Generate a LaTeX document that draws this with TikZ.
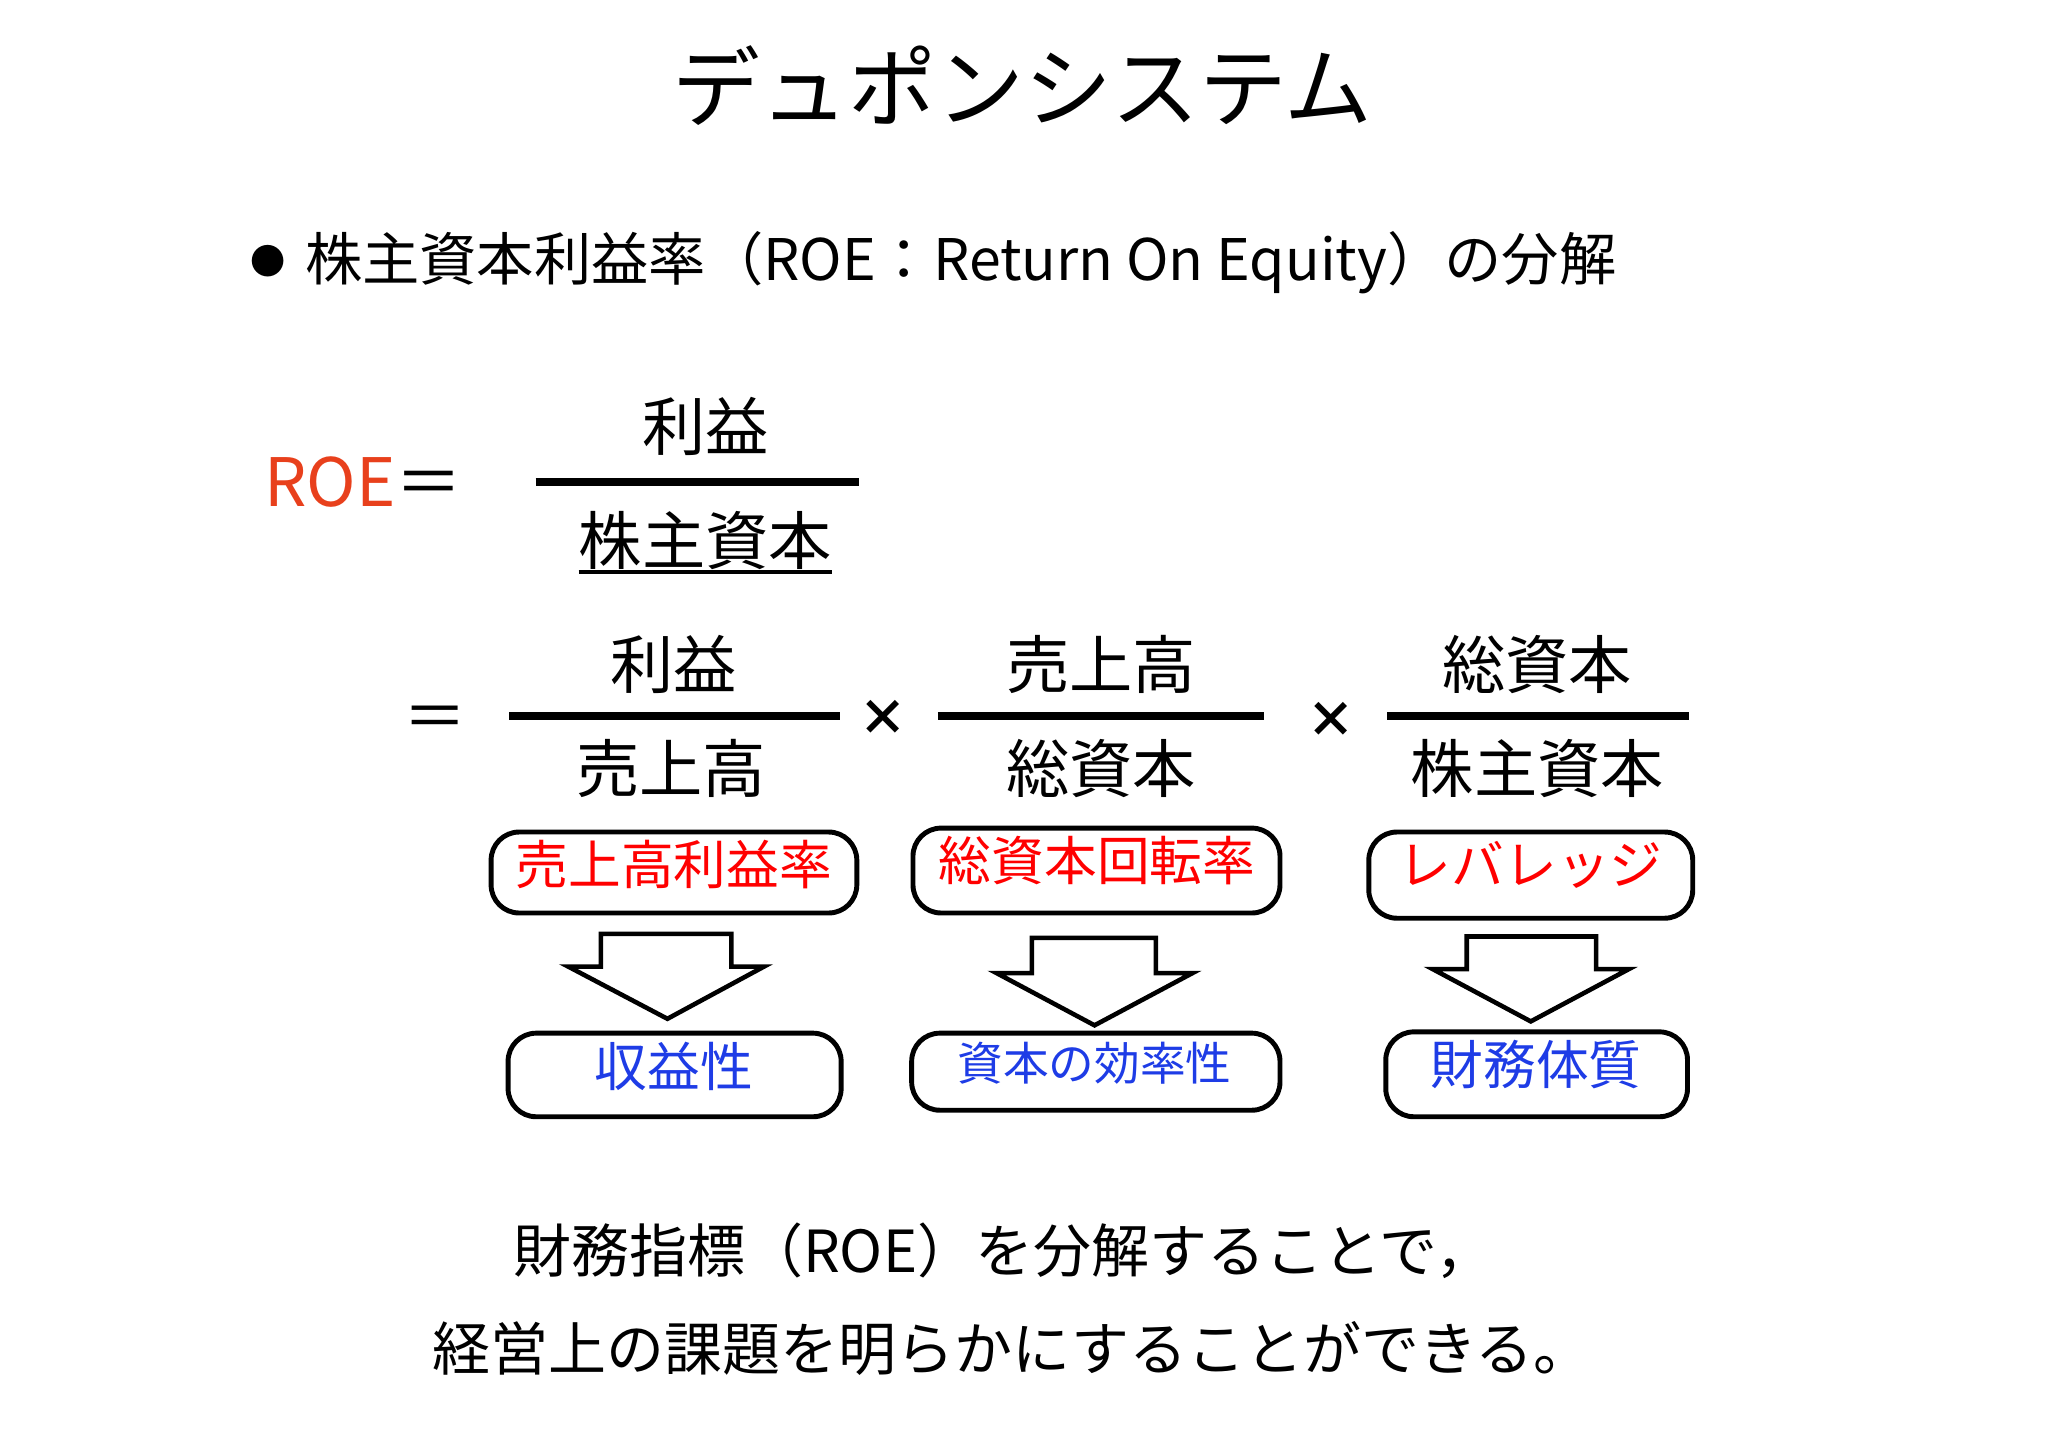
\documentclass[tikz,border=0pt]{standalone}
\usepackage{fontspec}
\setmainfont{Noto Sans CJK JP}
\begin{document}
\begin{tikzpicture}[x=0.01306cm,y=-0.01306cm,
  red box/.style={draw,line width=1.4pt,rounded corners=8pt},
  hollow arrow/.style={draw,line width=1.3pt,fill=white},
  lbl/.style={inner sep=0pt,anchor=base},
  frac/.style={line width=2.2pt}]
\useasboundingbox (0,0) rectangle (1568,1107);
\node[lbl] (title) at (783,92) {\fontsize{25}{28}\selectfont デュポンシステム};
\node[inner sep=0pt] (bul) at (205,200) {\fontsize{10}{12}\selectfont ●};
\node[lbl,anchor=base west] (sub) at (233,215) {\fontsize{16.3}{20}\selectfont 株主資本利益率（ROE：Return On Equity）の分解};
\node[lbl] (roe) at (278,388) {\fontsize{19}{22}\selectfont\textcolor[HTML]{E8401C}{ROE}＝};
% fraction 1
\node[lbl] (n1) at (540,345) {\fontsize{18}{20}\selectfont 利益};
\draw[frac] (410,369) -- (658,369);
\node[lbl] (d1) at (540,432) {\fontsize{18}{20}\selectfont 株主資本};
\draw[line width=1.2pt] (443,438) -- (637,438);
% row 2
\node[lbl] (eq2) at (333,566) {\fontsize{18}{20}\selectfont ＝};
\draw[frac] (390,548) -- (643,548);
\draw[frac] (718,548) -- (968,548);
\draw[frac] (1062,548) -- (1293,548);
\node[lbl] (a1) at (516,527) {\fontsize{18}{20}\selectfont 利益};
\node[lbl] (a2) at (843,527) {\fontsize{18}{20}\selectfont 売上高};
\node[lbl] (a3) at (1177,527) {\fontsize{18}{20}\selectfont 総資本};
\node[lbl] (b1) at (514,607) {\fontsize{18}{20}\selectfont 売上高};
\node[lbl] (b2) at (843,607) {\fontsize{18}{20}\selectfont 総資本};
\node[lbl] (b3) at (1177,607) {\fontsize{18}{20}\selectfont 株主資本};
\node[inner sep=0pt] (x1) at (676,550) {\fontsize{14}{16}\selectfont\bfseries ×};
\node[inner sep=0pt] (x2) at (1019,551) {\fontsize{14}{16}\selectfont\bfseries ×};
% red boxes
\draw[red box] (376,637) rectangle (656,699);
\draw[red box] (699,634) rectangle (980,699);
\draw[red box] (1048,637) rectangle (1296,703);
\node[lbl,text=red] (r1) at (516,677) {\fontsize{15}{17}\selectfont 売上高利益率};
\node[lbl,text=red] (r2) at (840,674) {\fontsize{15}{17}\selectfont 総資本回転率};
\node[lbl,text=red] (r3) at (1172,677) {\fontsize{15}{17}\selectfont レバレッジ};
% arrows
\draw[hollow arrow] (460,715) -- (560,715) -- (560,740) -- (585,740) -- (511,780) -- (435,740) -- (460,740) -- cycle;
\draw[hollow arrow] (790,718) -- (885,718) -- (885,745) -- (913,745) -- (838,785) -- (763,745) -- (790,745) -- cycle;
\draw[hollow arrow] (1123,717) -- (1222,717) -- (1222,742) -- (1247,742) -- (1172,782) -- (1097,742) -- (1123,742) -- cycle;
% blue boxes
\draw[red box] (389,791) rectangle (644,855);
\draw[red box] (698,791) rectangle (980,850);
\draw[red box] (1061,790) rectangle (1292,855);
\node[lbl,text={rgb,255:red,30;green,60;blue,230}] (c1) at (516,832) {\fontsize{15}{17}\selectfont 収益性};
\node[lbl,text={rgb,255:red,30;green,60;blue,230}] (c2) at (838,827) {\fontsize{13}{15}\selectfont 資本の効率性};
\node[lbl,text={rgb,255:red,30;green,60;blue,230}] (c3) at (1176,830) {\fontsize{15}{17}\selectfont 財務体質};
% bottom
\node[lbl] (t1) at (768,974) {\fontsize{16.5}{20}\selectfont 財務指標（ROE）を分解することで，};
\node[lbl] (t2) at (775,1049) {\fontsize{16.5}{20}\selectfont 経営上の課題を明らかにすることができる。};
\end{tikzpicture}
\end{document}
